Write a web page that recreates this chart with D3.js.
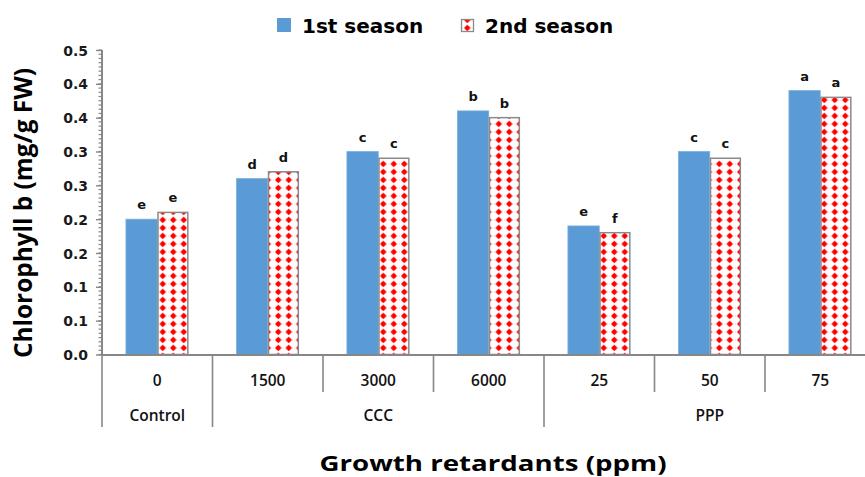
<!DOCTYPE html>
<html>
<head>
<meta charset="utf-8">
<script src="https://cdn.jsdelivr.net/npm/d3@7"></script>
<style>
  html, body { margin: 0; padding: 0; background: #fff; overflow: hidden; }
  svg { display: block; }
</style>
</head>
<body>
<script>
// Chlorophyll b content under growth retardant treatments, two seasons
const categories = ["0", "1500", "3000", "6000", "25", "50", "75"];
const groups = [
  { name: "Control", from: 0, to: 0 },
  { name: "CCC", from: 1, to: 3 },
  { name: "PPP", from: 4, to: 6 }
];
const season1 = [0.20, 0.26, 0.30, 0.36, 0.19, 0.30, 0.39];
const season2 = [0.21, 0.27, 0.29, 0.35, 0.18, 0.29, 0.38];
const letters1 = ["e", "d", "c", "b", "e", "c", "a"];
const letters2 = ["e", "d", "c", "b", "f", "c", "a"];
const seriesNames = ["1st season", "2nd season"];
const yTicks = [0, 0.05, 0.10, 0.15, 0.20, 0.25, 0.30, 0.35, 0.40, 0.45];
const yTickLabels = ["0.0", "0.1", "0.1", "0.2", "0.2", "0.3", "0.3", "0.4", "0.4", "0.5"];

const W = 865, H = 477;
const svg = d3.select("body").append("svg").attr("width", W).attr("height", H);

const axisColor = "#878787";
const blue = "#5b9bd5";

// Dotted red fill for the second season
const defs = svg.append("defs");
const pat = defs.append("pattern")
  .attr("id", "redDots")
  .attr("patternUnits", "userSpaceOnUse")
  .attr("width", 10.5).attr("height", 8);
pat.append("rect").attr("width", 10.5).attr("height", 8).attr("fill", "#fff");
pat.append("line").attr("x1", 0).attr("x2", 10.5).attr("y1", 4).attr("y2", 4)
  .attr("stroke", "#ffb4b4").attr("stroke-width", 0.7).attr("stroke-dasharray", "1.2,1.6");
pat.append("line").attr("x1", 5.25).attr("x2", 5.25).attr("y1", 0).attr("y2", 8)
  .attr("stroke", "#ffb4b4").attr("stroke-width", 0.7).attr("stroke-dasharray", "1.2,1.6");
pat.append("circle").attr("cx", 5.25).attr("cy", 4).attr("r", 2.4).attr("fill", "#ff0000");
pat.append("rect").attr("x", 2.35).attr("y", 3.3).attr("width", 5.8).attr("height", 1.4).attr("fill", "#ff0000");
pat.append("rect").attr("x", 4.55).attr("y", 1.1).attr("width", 1.4).attr("height", 5.8).attr("fill", "#ff0000");

// Scales
const y = d3.scaleLinear().domain([0, 0.45]).range([354.5, 50]);
const x = d3.scaleBand().domain(categories).range([102, 875.5]).padding(0);
const groupFrac = 0.567;
const xs = d3.scaleBand().domain([0, 1]).range([0, x.bandwidth() * groupFrac]).padding(0);
const groupOffset = (x.bandwidth() - x.bandwidth() * groupFrac) / 2;

// Y axis with minor ticks
const minorTicks = d3.range(0, 0.45 + 1e-9, 0.05 / 8);
const gy = svg.append("g");
gy.selectAll("line.minor").data(minorTicks).join("line")
  .attr("x1", 98.5).attr("x2", 102)
  .attr("y1", d => y(d)).attr("y2", d => y(d))
  .attr("stroke", axisColor).attr("stroke-width", 1.2);
const yAxis = d3.axisLeft(y).tickValues(yTicks)
  .tickFormat((d, i) => yTickLabels[i]).tickSize(6).tickPadding(8);
gy.append("g").attr("transform", "translate(102,0)").call(yAxis)
  .call(g => g.select(".domain").remove())
  .call(g => g.selectAll(".tick line").attr("stroke", axisColor).attr("stroke-width", 1.4))
  .call(g => g.selectAll(".tick text")
    .attr("font-family", "DejaVu Sans").attr("font-weight", "bold")
    .attr("font-size", 14).attr("fill", "#1a1a1a").attr("dy", "0.36em"));
gy.append("line").attr("x1", 102).attr("x2", 102).attr("y1", y(0.45)).attr("y2", 355)
  .attr("stroke", axisColor).attr("stroke-width", 2);

// Bars
const bars = svg.append("g");
categories.forEach((c, i) => {
  const gx = x(c) + groupOffset;
  [season1[i], season2[i]].forEach((v, s) => {
    bars.append("rect")
      .attr("x", gx + xs(s) + (s === 1 ? 0.75 : 0))
      .attr("y", y(v))
      .attr("width", xs.bandwidth() - (s === 1 ? 1.5 : 0))
      .attr("height", y(0) - y(v))
      .attr("fill", s === 0 ? blue : "url(#redDots)")
      .attr("stroke", s === 0 ? "#7cb0e0" : "#8a8a8a")
      .attr("stroke-width", s === 0 ? 0.8 : 1.5);
    bars.append("text")
      .attr("x", gx + xs(s) + xs.bandwidth() / 2)
      .attr("y", y(v) - 10)
      .attr("text-anchor", "middle")
      .attr("font-family", "DejaVu Sans").attr("font-weight", "bold")
      .attr("font-size", 13).attr("fill", "#111")
      .text(s === 0 ? letters1[i] : letters2[i]);
  });
});

// X axis: baseline, category separators and two-level labels
const gxAxis = svg.append("g");
gxAxis.append("line").attr("x1", 101).attr("x2", W).attr("y1", 355).attr("y2", 355)
  .attr("stroke", axisColor).attr("stroke-width", 2);
const groupEdges = new Set([0]);
groups.forEach(g => groupEdges.add(g.to + 1));
d3.range(categories.length + 1).forEach(k => {
  const px = k < categories.length ? x(categories[k]) : x.range()[1];
  gxAxis.append("line")
    .attr("x1", px).attr("x2", px)
    .attr("y1", 355).attr("y2", groupEdges.has(k) ? 427 : 392)
    .attr("stroke", axisColor).attr("stroke-width", 1.6);
});
gxAxis.selectAll("text.cat").data(categories).join("text")
  .attr("x", d => x(d) + x.bandwidth() / 2)
  .attr("y", 386)
  .attr("text-anchor", "middle")
  .attr("font-family", "Open Sans").attr("font-size", 15.5).attr("font-weight", 600)
  .attr("fill", "#111")
  .text(d => d);
gxAxis.selectAll("text.grp").data(groups).join("text")
  .attr("x", g => (x(categories[g.from]) + x(categories[g.to]) + x.bandwidth()) / 2)
  .attr("y", 421)
  .attr("text-anchor", "middle")
  .attr("font-family", "Open Sans").attr("font-size", 15.5).attr("font-weight", 600)
  .attr("fill", "#111")
  .text(g => g.name);

// Axis titles
svg.append("text")
  .attr("transform", "translate(32,213) rotate(-90) scale(1,1.12)")
  .attr("text-anchor", "middle")
  .attr("font-family", "Open Sans").attr("font-weight", "bold").attr("font-size", 23)
  .attr("textLength", 290).attr("lengthAdjust", "spacingAndGlyphs")
  .attr("fill", "#000")
  .text("Chlorophyll b (mg/g FW)");
svg.append("text")
  .attr("x", 493).attr("y", 471)
  .attr("text-anchor", "middle")
  .attr("font-family", "Open Sans").attr("font-weight", "bold").attr("font-size", 20.5)
  .attr("textLength", 347).attr("lengthAdjust", "spacingAndGlyphs")
  .attr("fill", "#000")
  .text("Growth retardants (ppm)");

// Legend
const legend = svg.append("g");
legend.append("rect").attr("x", 277).attr("y", 18).attr("width", 14).attr("height", 14).attr("fill", blue);
legend.append("text").attr("x", 302).attr("y", 33)
  .attr("font-family", "DejaVu Sans").attr("font-weight", "bold").attr("font-size", 20)
  .attr("fill", "#000").text(seriesNames[0]);
legend.append("rect").attr("x", 461.5).attr("y", 19.5).attr("width", 12).attr("height", 12)
  .attr("fill", "url(#redDots)").attr("stroke", "#8a8a8a").attr("stroke-width", 1.3);
legend.append("text").attr("x", 485).attr("y", 33)
  .attr("font-family", "DejaVu Sans").attr("font-weight", "bold").attr("font-size", 20)
  .attr("fill", "#000").text(seriesNames[1]);
</script>
</body>
</html>
